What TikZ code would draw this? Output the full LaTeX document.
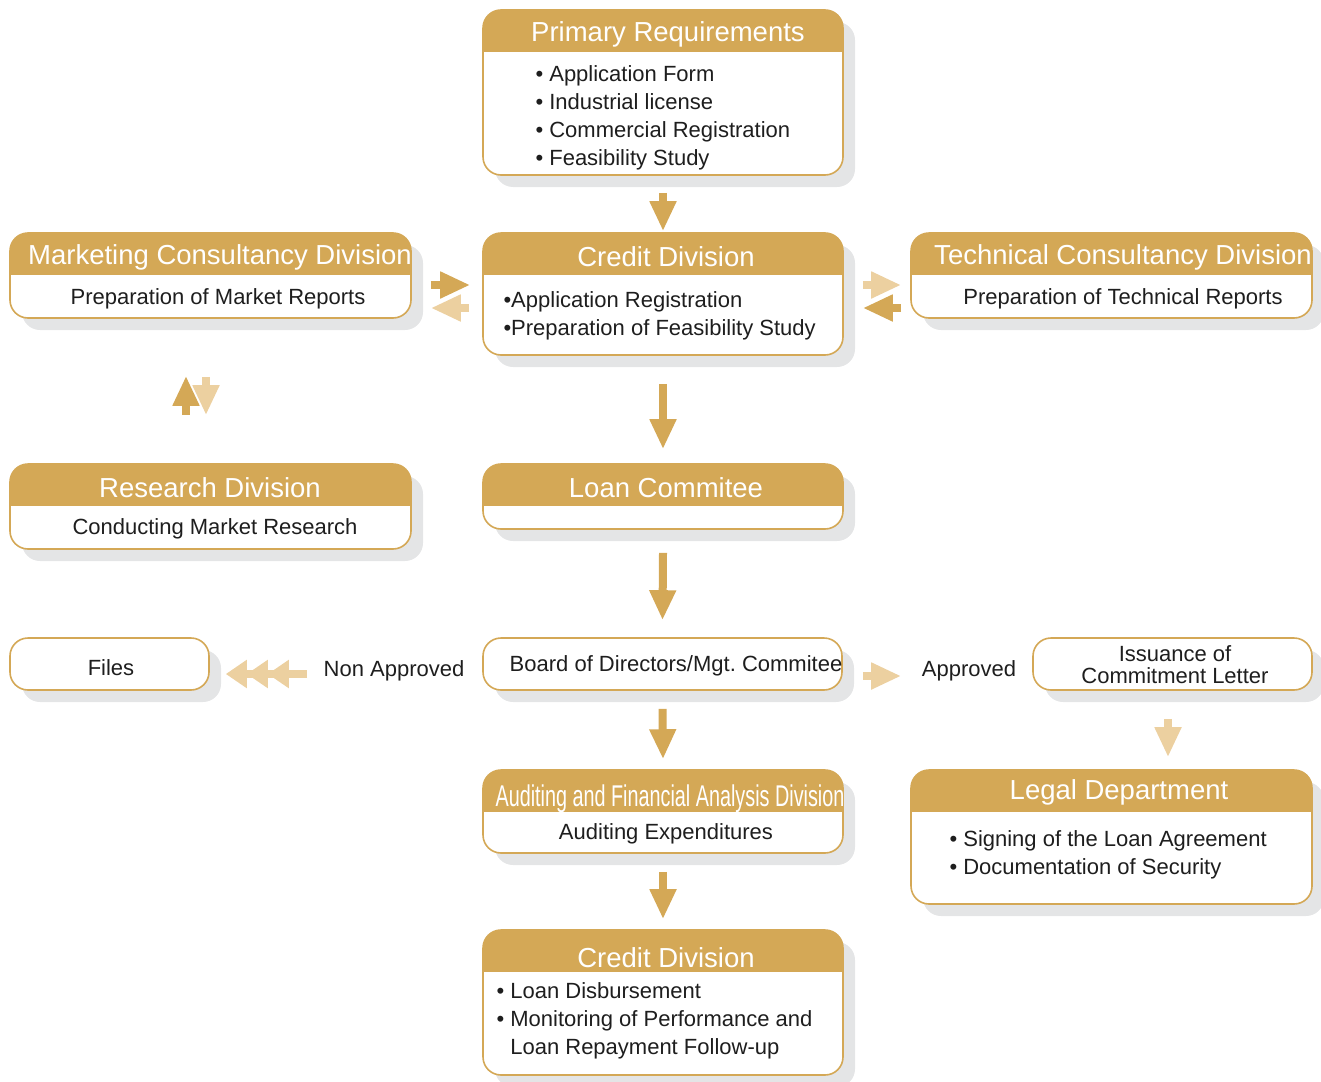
\documentclass[tikz,border=0pt]{standalone}
\usepackage{fontspec}
\usepackage{graphicx}
\setmainfont{Liberation Sans}
\usetikzlibrary{arrows.meta,shadows}
\definecolor{gold}{RGB}{212,168,86}
\definecolor{paleGold}{RGB}{236,208,160}
\definecolor{shadowGrey}{RGB}{228,229,230}
\definecolor{ink}{RGB}{30,30,30}
\frenchspacing
\tikzset{
  box/.style={draw=gold, line width=1.6pt, fill=white, rounded corners=18pt,
    drop shadow={shadow xshift=12pt, shadow yshift=-12pt, fill=shadowGrey, opacity=1}},
  head/.style={path picture={\fill[gold, sharp corners] (path picture bounding box.north west)
    rectangle ([yshift=-42pt]path picture bounding box.north east);}},
  title/.style={text=white, font=\fontsize{27.5}{30}\selectfont},
  txt/.style={text=ink, font=\fontsize{22}{28}\selectfont, align=left},
  fwd/.style={gold, line width=8pt, -{Triangle[width=25pt,length=30pt]}},
  back/.style={paleGold, line width=8pt, -{Triangle[width=25pt,length=30pt]}}
}
\begin{document}
\begin{tikzpicture}[x=1pt,y=-1pt]
\useasboundingbox (0,0) rectangle (1321,1081);
% boxes
\node[box, head, minimum width=360pt, minimum height=165pt] (req) at (663,92.5) {};
\node[box, head, minimum width=401pt, minimum height=85pt] (mkt) at (210.5,275.5) {};
\node[box, head, minimum width=360pt, minimum height=122pt] (cd1) at (663,294) {};
\node[box, head, minimum width=401pt, minimum height=85pt] (tech) at (1111.5,275.5) {};
\node[box, head, minimum width=401pt, minimum height=85pt] (res) at (210.5,506.5) {};
\node[box, head, minimum width=360pt, minimum height=65pt] (loan) at (663,496.5) {};
\node[box, minimum width=199pt, minimum height=52pt] (files) at (109.5,664) {};
\node[box, minimum width=359pt, minimum height=52pt] (board) at (662.5,664) {};
\node[box, minimum width=279pt, minimum height=52pt] (iss) at (1172.5,664) {};
\node[box, head, minimum width=360pt, minimum height=83pt] (aud) at (663,811.5) {};
\node[box, head, minimum width=401pt, minimum height=134pt] (legal) at (1111.5,837) {};
\node[box, head, minimum width=360pt, minimum height=145pt] (cd2) at (663,1002.5) {};
% headings
\node[title] (reqHead) at (668,34) {Primary Requirements};
\node[title] (mktHead) at (220,257) {Marketing Consultancy Division};
\node[title] (cd1Head) at (666,257) {Credit Division};
\node[title] (techHead) at (1123,257) {Technical Consultancy Division};
\node[title] (resHead) at (210,488) {Research Division};
\node[title] (loanHead) at (666,488) {Loan Commitee};
\node[title] (audHead) at (670,799) {\scalebox{0.66}[1]{\fontsize{30}{32}\selectfont Auditing and Financial Analysis Division}};
\node[title] (legalHead) at (1119,792) {Legal Department};
\node[title] (cd2Head) at (666,958) {Credit Division};
% texts
\node[txt, anchor=west] (reqList) at (532,117.5) {• Application Form\\• Industrial license\\• Commercial Registration\\• Feasibility Study};
\node[txt] (mktText) at (218,299) {Preparation of Market Reports};
\node[txt, anchor=west] (cd1List) at (500,316) {•Application Registration\\•Preparation of Feasibility Study};
\node[txt] (techText) at (1123,299) {Preparation of Technical Reports};
\node[txt] (resText) at (215,529) {Conducting Market Research};
\node[txt] (filesText) at (111,668) {Files};
\node[txt] (boardText) at (676,666) {Board of Directors/Mgt. Commitee};
\node[txt, align=center, font=\fontsize{22}{22}\selectfont] (issText) at (1175,665) {Issuance of\\Commitment Letter};
\node[txt] (audText) at (666,834) {Auditing Expenditures};
\node[txt, anchor=west] (legalList) at (946,855) {• Signing of the Loan Agreement\\• Documentation of Security};
\node[txt, anchor=west] (cd2List) at (493,1021) {• Loan Disbursement\\• Monitoring of Performance and\\\hphantom{• }Loan Repayment Follow-up};
\node[txt] (nonApp) at (394,671) {Non Approved};
\node[txt] (app) at (969,671) {Approved};
% arrows
\draw[fwd] ([yshift=-17pt]req.south) -- ([yshift=1pt]cd1.north);
\draw[fwd] ([yshift=-28pt]cd1.south) -- ([yshift=14pt]loan.north);
\draw[fwd] ([yshift=-23pt]loan.south) -- ([yshift=17pt]board.north);
\draw[fwd] ([yshift=-18pt]board.south) -- ([yshift=10pt]aud.north);
\draw[fwd] ([yshift=-18pt]aud.south) -- ([yshift=10pt]cd2.north);
\draw[fwd] ([shift={(19,9.5)}]mkt.east) -- ([shift={(-12,-9)}]cd1.west);
\draw[back] ([shift={(-13,14)}]cd1.west) -- ([shift={(19,32.5)}]mkt.east);
\draw[back] ([shift={(19,-9)}]cd1.east) -- ([shift={(-9,9.5)}]tech.west);
\draw[fwd] ([shift={(-9,32.5)}]tech.west) -- ([shift={(19,14)}]cd1.east);
\draw[fwd] ([shift={(-24.5,-48)}]res.north) -- ([shift={(-24.5,57)}]mkt.south);
\draw[back] ([shift={(-4.5,58)}]mkt.south) -- ([shift={(-4.5,-48)}]res.north);
\draw[paleGold, line width=8pt, -{Triangle[width=27pt,length=21pt] Triangle[width=27pt,length=21pt] Triangle[width=27pt,length=21pt]}]
  ([shift={(-175,10)}]board.west) -- ([shift={(16,10)}]files.east);
\draw[back] ([shift={(20,12)}]board.east) -- ([shift={(-131,12)}]iss.west);
\draw[back] ([shift={(-4.5,28)}]iss.south) -- ([shift={(56.5,-12)}]legal.north);
\end{tikzpicture}
\end{document}
